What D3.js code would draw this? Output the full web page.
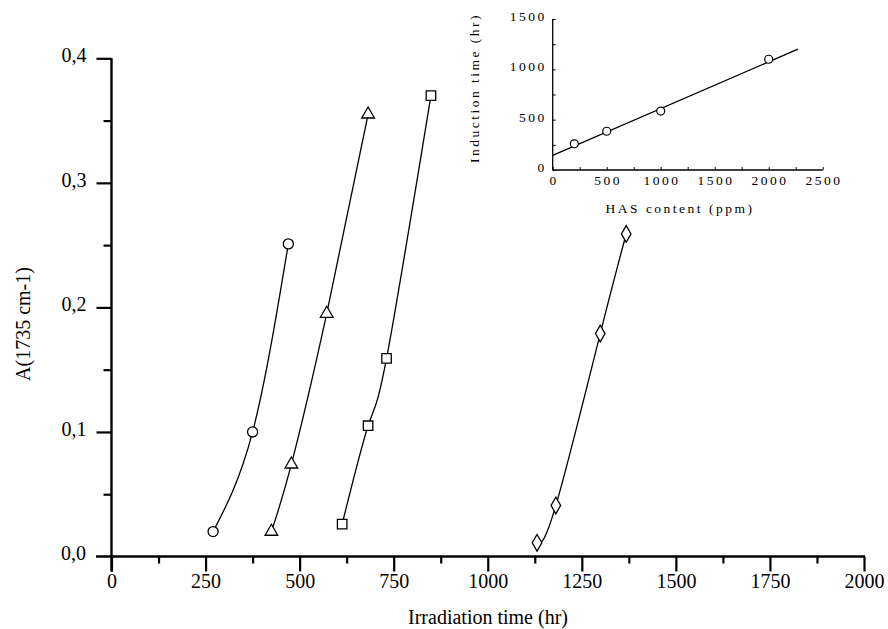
<!DOCTYPE html>
<html>
<head>
<meta charset="utf-8">
<script src="https://cdn.jsdelivr.net/npm/d3@7"></script>
<style>
  body { margin: 0; background: #fff; }
  svg { display: block; font-family: "Liberation Serif", "DejaVu Serif", serif; }
  svg text { font-family: "Liberation Serif", "DejaVu Serif", serif; }
</style>
</head>
<body>
<svg id="chart" width="888" height="629"></svg>
<script>
// main chart data: irradiation time (hr) vs A(1735 cm-1)
const circleTime = [270, 375, 470];
const circleAbs = [0.020, 0.100, 0.251];
const triangleTime = [425, 478, 572, 682];
const triangleAbs = [0.020, 0.074, 0.195, 0.355];
const squareTime = [613, 682, 731, 849];
const squareAbs = [0.026, 0.105, 0.159, 0.370];
const diamondTime = [1131, 1181, 1299, 1368];
const diamondAbs = [0.011, 0.041, 0.179, 0.259];

const xTicks = [0, 250, 500, 750, 1000, 1250, 1500, 1750, 2000];
const yTicks = [0, 0.1, 0.2, 0.3, 0.4];

// inset data: HAS content vs induction time
const hasContent = [200, 500, 1000, 2000];
const inductionTime = [260, 385, 585, 1100];
const fitContent = [0, 2270];
const fitTime = [145, 1200];
const insetXTicks = [0, 500, 1000, 1500, 2000, 2500];
const insetYTicks = [0, 500, 1000, 1500];

const svg = d3.select("#chart");

let x = d3.scaleLinear().domain([0, 2000]).range([111.5, 864]),
    y = d3.scaleLinear().domain([0, 0.4]).range([556.5, 58.3]);

let fmt = d => d3.format(".1f")(d).replace(".", ",");

// x axis, major + minor ticks
let xMinor = d3.pairs(xTicks).map(p => (p[0] + p[1]) / 2);
let gx = svg.append("g").attr("transform", "translate(0," + y(0) + ")");
gx.call(d3.axisBottom(x).tickValues(xTicks).tickSize(15).tickFormat(d3.format("d")));
gx.select(".domain").remove();
gx.selectAll(".tick line").attr("stroke-width", 2.2);
gx.selectAll(".tick text").attr("y", 31).attr("dy", null)
    .attr("font-size", 20).attr("fill", "#000");
let gxm = svg.append("g").attr("transform", "translate(0," + y(0) + ")");
gxm.call(d3.axisBottom(x).tickValues(xMinor).tickSize(7).tickFormat(""));
gxm.select(".domain").remove();
gxm.selectAll(".tick line").attr("stroke-width", 2.2);
svg.append("line")
    .attr("x1", 96).attr("x2", x(2000) + 1)
    .attr("y1", y(0)).attr("y2", y(0))
    .attr("stroke", "#000").attr("stroke-width", 2.4);

// y axis
let yMinor = d3.pairs(yTicks).map(p => (p[0] + p[1]) / 2);
let gy = svg.append("g").attr("transform", "translate(" + x(0) + ",0)");
gy.call(d3.axisLeft(y).tickValues(yTicks.slice(1)).tickSize(15).tickPadding(10).tickFormat(fmt));
gy.select(".domain").remove();
gy.selectAll(".tick line").attr("stroke-width", 2.2);
gy.selectAll(".tick text").attr("dy", "0.17em")
    .attr("font-size", 20).attr("fill", "#000");
let gym = svg.append("g").attr("transform", "translate(" + x(0) + ",0)");
gym.call(d3.axisLeft(y).tickValues(yMinor).tickSize(8).tickFormat(""));
gym.select(".domain").remove();
gym.selectAll(".tick line").attr("stroke-width", 2.2);
svg.append("line")
    .attr("x1", x(0)).attr("x2", x(0))
    .attr("y1", y(0.4)).attr("y2", y(0) + 15)
    .attr("stroke", "#000").attr("stroke-width", 2.4);
// 0,0 label sits left of the extended x axis
svg.append("text")
    .attr("x", 86).attr("y", y(0)).attr("dy", "0.17em")
    .attr("text-anchor", "end").attr("font-size", 20)
    .text(fmt(0));

svg.append("text")
    .attr("x", 488).attr("y", 624)
    .attr("text-anchor", "middle").attr("font-size", 20)
    .text("Irradiation time (hr)");
svg.append("text")
    .attr("transform", "translate(30,324) rotate(-90)")
    .attr("text-anchor", "middle").attr("font-size", 20)
    .text("A(1735 cm-1)");

// curves
let series = [
    { t: circleTime, a: circleAbs, sym: d3.symbolCircle, size: 80 },
    { t: triangleTime, a: triangleAbs, sym: d3.symbolTriangle, size: 70 },
    { t: squareTime, a: squareAbs, sym: d3.symbolSquare, size: 90 },
    { t: diamondTime, a: diamondAbs, sym: d3.symbolDiamond, size: 80 }
];
let line = d3.line().x(d => x(d[0])).y(d => y(d[1])).curve(d3.curveNatural);

series.forEach(s => {
    let pts = d3.zip(s.t, s.a);
    svg.append("path")
        .attr("d", line(pts))
        .attr("fill", "none").attr("stroke", "#000").attr("stroke-width", 1.3);
    svg.selectAll(null)
        .data(pts)
        .enter().append("path")
        .attr("transform", d => "translate(" + x(d[0]) + "," + y(d[1]) + ")")
        .attr("d", d3.symbol().type(s.sym).size(s.size))
        .attr("fill", "#fff").attr("stroke", "#000").attr("stroke-width", 1.3);
});

// inset
let ix = d3.scaleLinear().domain([0, 2500]).range([552.7, 822.7]),
    iy = d3.scaleLinear().domain([0, 1500]).range([170, 19]);

let ins = svg.append("g");

let igx = ins.append("g").attr("transform", "translate(0," + iy(0) + ")");
igx.call(d3.axisBottom(ix).tickValues(d3.range(0, 2501, 250)).tickSize(-3).tickFormat(""));
igx.select(".domain").remove();
ins.selectAll(null)
    .data(insetXTicks)
    .enter().append("text")
    .attr("class", "inset")
    .attr("x", d => ix(d) + 1.3).attr("y", iy(0) + 15)
    .attr("text-anchor", "middle")
    .text(d => d);

let igy = ins.append("g").attr("transform", "translate(" + ix(0) + ",0)");
igy.call(d3.axisLeft(iy).tickValues(d3.range(0, 1501, 250)).tickSize(-3).tickFormat(""));
igy.select(".domain").remove();
ins.selectAll(null)
    .data(insetYTicks)
    .enter().append("text")
    .attr("class", "inset")
    .attr("x", ix(0) - 6).attr("y", d => iy(d)).attr("dy", "0.15em")
    .attr("text-anchor", "end")
    .text(d => d);

ins.append("line")
    .attr("x1", ix(0)).attr("x2", ix(2500))
    .attr("y1", iy(0)).attr("y2", iy(0))
    .attr("stroke", "#000").attr("stroke-width", 1.3);
ins.append("line")
    .attr("x1", ix(0)).attr("x2", ix(0))
    .attr("y1", iy(0)).attr("y2", iy(1500))
    .attr("stroke", "#000").attr("stroke-width", 1.3);

ins.append("text")
    .attr("class", "inset")
    .attr("x", 680).attr("y", 213)
    .attr("text-anchor", "middle")
    .text("HAS content (ppm)");
ins.append("text")
    .attr("class", "inset")
    .attr("transform", "translate(479,88) rotate(-90)")
    .attr("text-anchor", "middle")
    .text("Induction time (hr)");

ins.selectAll("text.inset")
    .style("font-family", "'Liberation Serif', serif")
    .style("font-size", "13.5px")
    .style("letter-spacing", "2.5px")
    .attr("fill", "#000");

ins.append("path")
    .attr("d", d3.line().x(d => ix(d[0])).y(d => iy(d[1]))(d3.zip(fitContent, fitTime)))
    .attr("fill", "none").attr("stroke", "#000").attr("stroke-width", 1.3);
ins.selectAll(null)
    .data(d3.zip(hasContent, inductionTime))
    .enter().append("circle")
    .attr("cx", d => ix(d[0])).attr("cy", d => iy(d[1])).attr("r", 4)
    .attr("fill", "#fff").attr("stroke", "#000").attr("stroke-width", 1.2);
</script>
</body>
</html>
